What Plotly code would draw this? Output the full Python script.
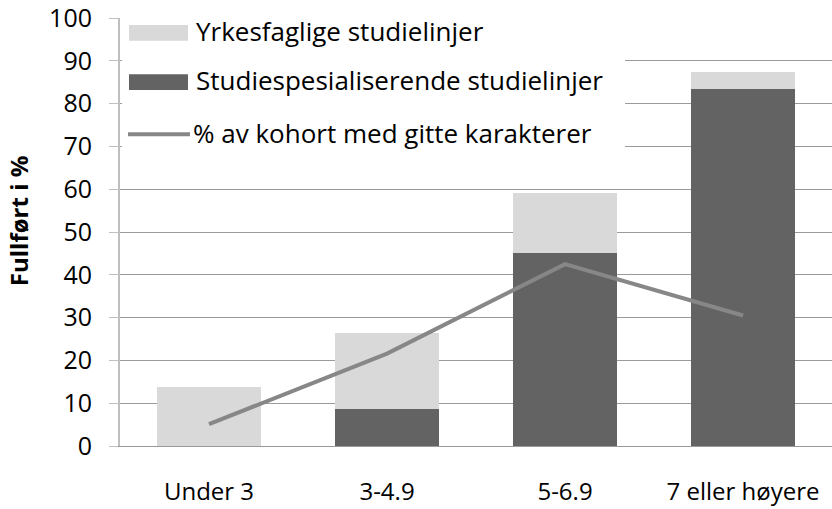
import plotly.graph_objects as go

categories = ["Under 3", "3-4.9", "5-6.9", "7 eller høyere"]
studiespes = [0, 8.6, 45.0, 83.3]
yrkesfag = [13.8, 17.7, 14.0, 4.2]
kohort = [5.1, 21.6, 42.5, 30.5]
y_ticks = [0, 10, 20, 30, 40, 50, 60, 70, 80, 90, 100]

name_yrk = "Yrkesfaglige studielinjer"
name_stu = "Studiespesialiserende studielinjer"
name_koh = "% av kohort med gitte karakterer"
y_title = "Fullført i %"

LIGHT = "#D9D9D9"
DARK = "#636363"
LINE = "#878787"
FONT = "Open Sans"

W, H = 832, 509
L, R, T, B = 120, 0, 12, 63
PW, PH = W - L - R, H - T - B

def px(x):
    return (x - L) / PW

def py(y):
    return (H - B - y) / PH

fig = go.Figure()
fig.add_trace(go.Bar(x=categories, y=studiespes, name=name_stu, marker=dict(color=DARK, line=dict(width=0)), showlegend=False))
fig.add_trace(go.Bar(x=categories, y=yrkesfag, name=name_yrk, marker=dict(color=LIGHT, line=dict(width=0)), showlegend=False))
fig.add_trace(go.Scatter(x=categories, y=kohort, name=name_koh, mode="lines", line=dict(color=LINE, width=4), showlegend=False))

shapes = [
    dict(type="rect", xref="paper", yref="paper", x0=px(122), x1=px(625), y0=py(160), y1=py(0),
         fillcolor="white", line=dict(width=0), layer="above"),
    dict(type="rect", xref="paper", yref="paper", x0=px(129), x1=px(188), y0=py(35), y1=py(19),
         fillcolor=LIGHT, line=dict(width=0), layer="above"),
    dict(type="rect", xref="paper", yref="paper", x0=px(129), x1=px(188), y0=py(85), y1=py(69),
         fillcolor=DARK, line=dict(width=0), layer="above"),
    dict(type="line", xref="paper", yref="paper", x0=px(128), x1=px(190), y0=py(130), y1=py(130),
         line=dict(color=LINE, width=4), layer="above"),
]
LEG_SIZE = 26
annotations = [
    dict(text=name_yrk, xref="paper", yref="paper", x=px(194), y=py(25), xanchor="left", yanchor="middle",
         showarrow=False, font=dict(family=FONT, size=LEG_SIZE, color="#000")),
    dict(text=name_stu, xref="paper", yref="paper", x=px(194), y=py(75), xanchor="left", yanchor="middle",
         showarrow=False, font=dict(family=FONT, size=LEG_SIZE, color="#000")),
    dict(text=name_koh, xref="paper", yref="paper", x=px(191), y=py(129), xanchor="left", yanchor="middle",
         showarrow=False, font=dict(family=FONT, size=LEG_SIZE, color="#000")),
    dict(text="<b>" + y_title + "</b>", xref="paper", yref="paper", x=px(18), y=py(218),
         xanchor="center", yanchor="middle", textangle=-90, showarrow=False,
         font=dict(family=FONT, size=24, color="#000")),
]

fig.update_layout(
    width=W, height=H,
    margin=dict(l=L, r=R, t=T, b=B, pad=0),
    barmode="stack", bargap=0.416,
    plot_bgcolor="white", paper_bgcolor="white",
    font=dict(family=FONT, size=20, color="#000"),
    showlegend=False,
    shapes=shapes, annotations=annotations,
)
fig.update_xaxes(
    type="category", range=[-0.5, 3.5], showgrid=False,
    showline=True, linecolor="#9A9A9A", linewidth=1,
    ticks="", ticklabelstandoff=24, tickfont=dict(family=FONT, size=24),
)
fig.update_yaxes(
    range=[0, 100], tickvals=y_ticks, showgrid=True, gridcolor="#9A9A9A", gridwidth=1,
    showline=True, linecolor="#BFBFBF", linewidth=2, zeroline=False,
    ticks="outside", ticklen=9, tickcolor="#BFBFBF", tickwidth=1, ticklabelstandoff=12,
    ticklabeloverflow="allow",
    tickfont=dict(family=FONT, size=25),
)

fig.write_html("out.html", config={"displayModeBar": False},
               post_script="document.body.style.margin='0';")
